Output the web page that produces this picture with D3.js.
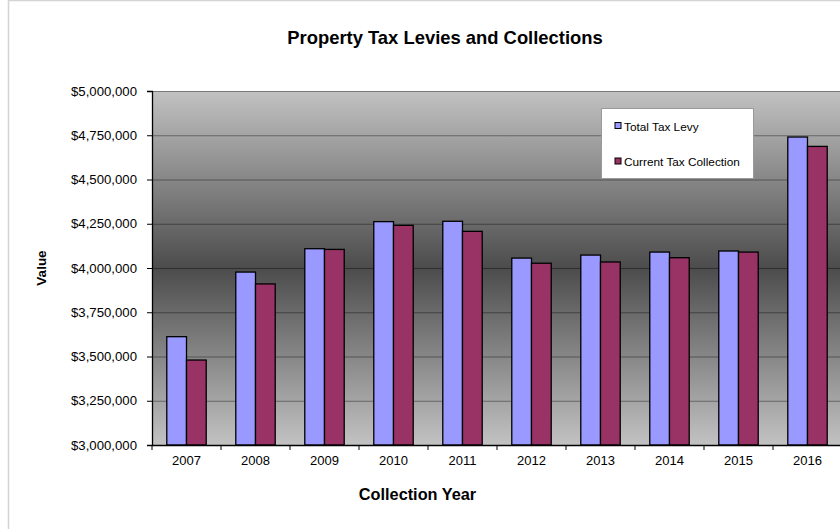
<!DOCTYPE html>
<html>
<head>
<meta charset="utf-8">
<script src="https://cdn.jsdelivr.net/npm/d3@7/dist/d3.min.js"></script>
<style>
  html, body { margin: 0; padding: 0; background: #fff; }
  svg { display: block; font-family: "Liberation Sans", Arial, sans-serif; }
</style>
</head>
<body>
<svg id="chart" width="840" height="529"></svg>
<script>
// Property tax levies and collections by collection year
const years = ["2007", "2008", "2009", "2010", "2011", "2012", "2013", "2014", "2015", "2016"];
const totalTaxLevy = [3612000, 3977000, 4109000, 4262000, 4264000, 4056000, 4073000, 4090000, 4096000, 4740000];
const currentTaxCollection = [3480000, 3910000, 4105000, 4241000, 4207000, 4027000, 4034000, 4058000, 4090000, 4687000];
const seriesNames = ["Total Tax Levy", "Current Tax Collection"];
const seriesColors = ["#9999FF", "#993366"];
const yTicks = [3000000, 3250000, 3500000, 3750000, 4000000, 4250000, 4500000, 4750000, 5000000];

const svg = d3.select("#chart");
const W = 840, H = 529;
const plot = { left: 152, right: 842, top: 91, bottom: 445 };

// outer chart border
svg.append("rect")
  .attr("x", 8.5).attr("y", 0.5)
  .attr("width", W + 20).attr("height", H + 20)
  .attr("fill", "#fff").attr("stroke", "#d4d4d4").attr("stroke-width", 1.5);

// plot background: grey gradient, darkest in the middle
const defs = svg.append("defs");
const grad = defs.append("linearGradient").attr("id", "plotBg")
  .attr("x1", 0).attr("y1", 0).attr("x2", 0).attr("y2", 1);
grad.append("stop").attr("offset", "0%").attr("stop-color", "#c2c2c2");
grad.append("stop").attr("offset", "50%").attr("stop-color", "#4c4c4c");
grad.append("stop").attr("offset", "100%").attr("stop-color", "#c2c2c2");

svg.append("rect")
  .attr("x", plot.left).attr("y", plot.top)
  .attr("width", plot.right - plot.left).attr("height", plot.bottom - plot.top)
  .attr("fill", "url(#plotBg)");

// scales
const x = d3.scaleBand().domain(years)
  .range([plot.left, plot.right])
  .paddingInner(1.5 / 3.5).paddingOuter(0.75 / 3.5);
const xs = d3.scaleBand().domain(seriesNames).range([0, x.bandwidth()]);
const y = d3.scaleLinear().domain([3000000, 5000000]).range([plot.bottom, plot.top]);

// gridlines
svg.append("g").selectAll("line")
  .data(yTicks.slice(1))
  .join("line")
  .attr("x1", plot.left).attr("x2", plot.right)
  .attr("y1", d => y(d) + 0.5).attr("y2", d => y(d) + 0.5)
  .attr("stroke", "rgba(0,0,0,0.38)").attr("stroke-width", 1.2);

// bars
const data = years.map((yr, i) => ({ year: yr, values: [totalTaxLevy[i], currentTaxCollection[i]] }));
const groups = svg.append("g").selectAll("g")
  .data(data).join("g")
  .attr("transform", d => `translate(${x(d.year)},0)`);
groups.selectAll("rect")
  .data(d => d.values.map((v, j) => ({ name: seriesNames[j], value: v, color: seriesColors[j] })))
  .join("rect")
  .attr("x", d => xs(d.name))
  .attr("y", d => y(d.value))
  .attr("width", xs.bandwidth())
  .attr("height", d => y(3000000) - y(d.value))
  .attr("fill", d => d.color)
  .attr("stroke", "#000").attr("stroke-width", 1.3);

// y axis
const yAxis = d3.axisLeft(y).tickValues(yTicks)
  .tickFormat(d => "$" + d3.format(",")(d))
  .tickSize(5).tickPadding(10);
const gy = svg.append("g").attr("transform", `translate(${plot.left},0)`).call(yAxis);
gy.select(".domain").attr("stroke", "#000").attr("stroke-width", 1.3);
gy.selectAll(".tick line").attr("stroke", "#000");
gy.selectAll(".tick text").attr("font-size", 13.2).attr("fill", "#000")
  .attr("font-family", "Liberation Sans, Arial, sans-serif");

// x axis
const xAxis = d3.axisBottom(x).tickSize(0).tickPadding(11);
const gx = svg.append("g").attr("transform", `translate(0,${plot.bottom})`).call(xAxis);
gx.select(".domain").attr("stroke", "#000").attr("stroke-width", 1.3);
gx.selectAll(".tick text").attr("font-size", 13).attr("fill", "#000")
  .attr("font-family", "Liberation Sans, Arial, sans-serif");
// category separator ticks
const sepPositions = years.map(yr => x(yr) - x.step() * x.paddingOuter()).concat([plot.right]);
svg.append("g").selectAll("line")
  .data(sepPositions).join("line")
  .attr("x1", d => d).attr("x2", d => d)
  .attr("y1", plot.bottom).attr("y2", plot.bottom + 5)
  .attr("stroke", "#000");

// title and axis titles
svg.append("text").attr("x", 445).attr("y", 44)
  .attr("text-anchor", "middle").attr("font-size", 18.4).attr("font-weight", "bold")
  .text("Property Tax Levies and Collections");
svg.append("text").attr("x", 417.5).attr("y", 500)
  .attr("text-anchor", "middle").attr("font-size", 16.3).attr("font-weight", "bold")
  .text("Collection Year");
svg.append("text")
  .attr("transform", "translate(46,268) rotate(-90)")
  .attr("text-anchor", "middle").attr("font-size", 13.5).attr("font-weight", "bold")
  .text("Value");

// legend
const lg = svg.append("g").attr("transform", "translate(601.5,108.5)");
lg.append("rect").attr("width", 152).attr("height", 70)
  .attr("fill", "#fff").attr("stroke", "#9a9a9a").attr("stroke-width", 1);
seriesNames.forEach((name, i) => {
  const cy = 17.5 + i * 35.5;
  lg.append("rect").attr("x", 13.5).attr("y", cy - 3.5).attr("width", 6).attr("height", 6)
    .attr("fill", seriesColors[i]).attr("stroke", "#000").attr("stroke-width", 1);
  lg.append("text").attr("x", 22.5).attr("y", cy + 4.5)
    .attr("font-size", 11.8).attr("fill", "#000").text(name);
});
</script>
</body>
</html>
